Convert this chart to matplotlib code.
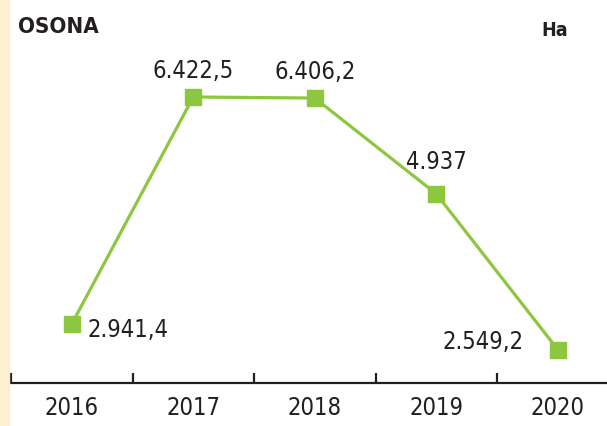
import matplotlib.pyplot as plt
from matplotlib.patches import Rectangle

years = ["2016", "2017", "2018", "2019", "2020"]
values = [2941.4, 6422.5, 6406.2, 4937, 2549.2]
labels = ["2.941,4", "6.422,5", "6.406,2", "4.937", "2.549,2"]

green = "#8dc63f"
dark = "#231f20"
font = dict(family="DejaVu Sans", stretch="condensed")

fig = plt.figure(figsize=(6.07, 4.26), dpi=100)
fig.patches.append(Rectangle((0, 0), 9 / 607, 1, transform=fig.transFigure,
                             color="#fdefcf", zorder=0))

ax = fig.add_axes([11 / 607, 1 - 383 / 426, 596 / 607, 383 / 426])
ax.set_facecolor("none")
x = list(range(len(years)))
ax.plot(x, values, color=green, lw=2.3, marker="s", ms=11, mec=green, mfc=green,
        clip_on=False)

ax.set_xlim(-0.5, -0.5 + 596 / 121.5)
ax.set_ylim(2036, 7910)

for s in ["top", "right", "left"]:
    ax.spines[s].set_visible(False)
ax.spines["bottom"].set_color(dark)
ax.spines["bottom"].set_linewidth(1.6)
ax.set_yticks([])
ax.set_xticks([i - 0.5 for i in range(len(years))])
ax.set_xticklabels([])
ax.tick_params(axis="x", direction="in", length=7, width=1.6, color=dark)
for i, y in enumerate(years):
    ax.text(i, -0.065, y, transform=ax.get_xaxis_transform(), ha="center",
            va="center", fontsize=17, color=dark, **font)

offsets = [(16, -6, "left", "center"), (0, 26, "center", "center"),
           (0, 26, "center", "center"), (0, 32, "center", "center"),
           (-34, 8, "right", "center")]
for i, (v, t) in enumerate(zip(values, labels)):
    dx, dy, ha, va = offsets[i]
    ax.annotate(t, (i, v), xytext=(dx, dy), textcoords="offset pixels",
                ha=ha, va=va, fontsize=17, color=dark, **font)

fig.text(18 / 607, 1 - 27 / 426, "OSONA", fontsize=16, fontweight="bold",
         color=dark, va="center", ha="left", **font)
fig.text(568 / 607, 1 - 30 / 426, "Ha", fontsize=14, fontweight="bold",
         color=dark, va="center", ha="right", **font)

fig.savefig("out.png", dpi=100)
